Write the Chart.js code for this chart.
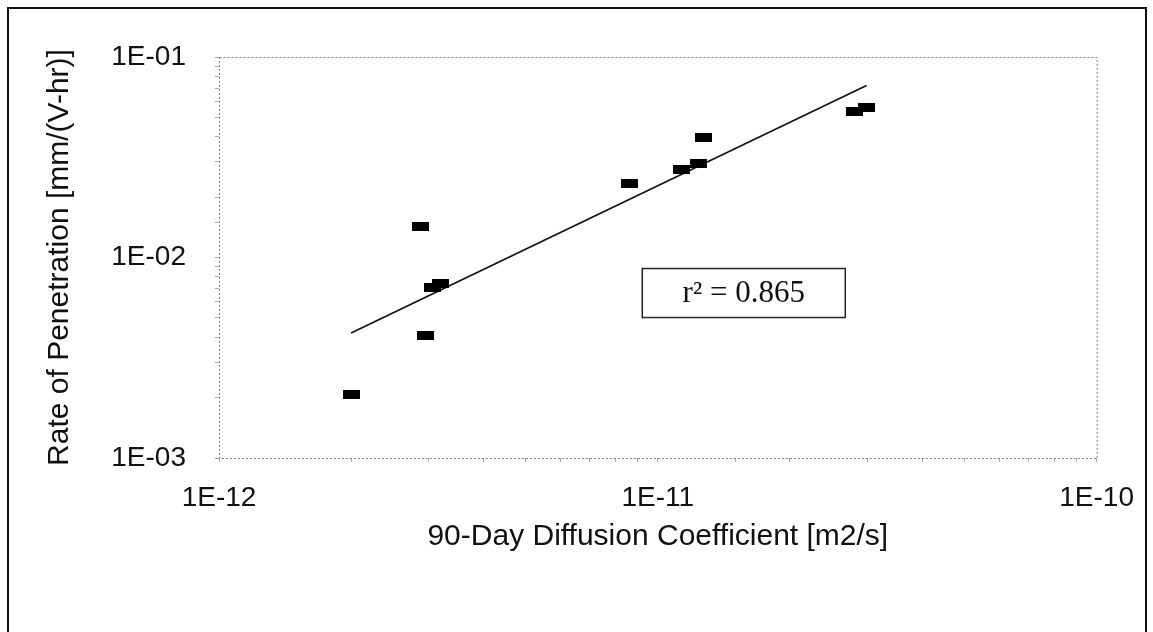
<!DOCTYPE html>
<html>
<head>
<meta charset="utf-8">
<title>Rate of Penetration vs 90-Day Diffusion Coefficient</title>
<script src="https://cdn.jsdelivr.net/npm/chart.js@4.4.1/dist/chart.umd.min.js"></script>
<style>
  html, body { margin: 0; padding: 0; background: #fff; overflow: hidden; }
  #wrap { position: relative; width: 1153px; height: 632px; }
  #frame {
    position: absolute; left: 7px; top: 7px; width: 1136px; height: 700px;
    border: 2px solid #111; border-bottom: none; pointer-events: none;
  }
  canvas { position: absolute; left: 0; top: 0; }
</style>
</head>
<body>
<div id="wrap">
  <canvas id="chart" width="1153" height="632"></canvas>
  <div id="frame"></div>
</div>
<script>
// --- data ---
const diffusion   = [2.0e-12, 2.88e-12, 2.95e-12, 3.07e-12, 3.2e-12, 8.6e-12, 1.13e-11, 1.24e-11, 1.27e-11, 2.81e-11, 2.99e-11];
const penetration = [2.08e-3, 1.42e-2, 4.1e-3, 7.05e-3, 7.4e-3, 2.35e-2, 2.76e-2, 2.96e-2, 3.99e-2, 5.32e-2, 5.63e-2];

// fitted line end points as drawn
const trendX = [2.0e-12, 2.99e-11];
const trendY = [4.2e-3, 7.2e-2];

const xTickLabels = ['1E-12', '1E-11', '1E-10'];
const yTickLabels = ['1E-03', '1E-02', '1E-01'];

const r2Text = 'r\u00B2 = 0.865';
const r2Anchor = { x: 1.57e-11, y: 6.65e-3 };

// black rectangle marker like the original
function rectMarker(w, h) {
  const c = document.createElement('canvas');
  c.width = w; c.height = h;
  const g = c.getContext('2d');
  g.fillStyle = '#000';
  g.fillRect(0, 0, w, h);
  return c;
}

// only the decades get a label
function decadeLabel(labels, minExp) {
  return (value) => {
    const e = Math.log10(value);
    const r = Math.round(e);
    if (Math.abs(e - r) > 1e-6) return '';
    return labels[r - minExp] || '';
  };
}

// dotted plot frame (Excel style)
const plotFrame = {
  id: 'plotFrame',
  beforeDatasetsDraw(chart) {
    const { ctx, chartArea: a } = chart;
    ctx.save();
    ctx.strokeStyle = '#7a7a7a';
    ctx.lineWidth = 1;
    ctx.setLineDash([2, 2]);
    ctx.strokeRect(a.left + 0.5, a.top + 0.5, a.right - a.left, a.bottom - a.top);
    ctx.restore();
  }
};

// r^2 text box
const r2Box = {
  id: 'r2Box',
  afterDatasetsDraw(chart) {
    const { ctx, scales } = chart;
    const cx = scales.x.getPixelForValue(r2Anchor.x);
    const cy = scales.y.getPixelForValue(r2Anchor.y);
    const w = 203, h = 49;
    ctx.save();
    ctx.fillStyle = '#fff';
    ctx.fillRect(cx - w / 2, cy - h / 2, w, h);
    ctx.strokeStyle = '#222';
    ctx.lineWidth = 1.5;
    ctx.strokeRect(cx - w / 2, cy - h / 2, w, h);
    ctx.fillStyle = '#111';
    ctx.font = '31px "Liberation Serif", "Times New Roman", serif';
    ctx.textAlign = 'center';
    ctx.textBaseline = 'middle';
    ctx.fillText(r2Text, cx, cy + 1);
    ctx.restore();
  }
};

const tickFont = { family: '"Liberation Sans", Arial, sans-serif', size: 28 };
const titleFont = { family: '"Liberation Sans", Arial, sans-serif', size: 30 };

new Chart(document.getElementById('chart'), {
  type: 'scatter',
  data: {
    datasets: [
      {
        label: 'Data',
        data: diffusion.map((x, i) => ({ x, y: penetration[i] })),
        pointStyle: rectMarker(17, 9),
        pointRadius: 8,
        pointHoverRadius: 8
      },
      {
        label: 'Fit',
        type: 'line',
        data: trendX.map((x, i) => ({ x, y: trendY[i] })),
        borderColor: '#111',
        borderWidth: 1.7,
        pointRadius: 0,
        fill: false,
        tension: 0
      }
    ]
  },
  options: {
    responsive: false,
    animation: false,
    events: [],
    layout: { padding: { left: 0, top: 57, right: 56, bottom: 0 } },
    plugins: { legend: { display: false }, tooltip: { enabled: false } },
    scales: {
      x: {
        type: 'logarithmic',
        min: 1e-12, max: 1e-10,
        border: { display: false },
        grid: { drawOnChartArea: false, drawTicks: true, tickLength: 4, color: '#aaa' },
        ticks: {
          autoSkip: false, maxRotation: 0, padding: 19, color: '#111', font: tickFont,
          callback: decadeLabel(xTickLabels, -12)
        },
        title: {
          display: true, text: '90-Day Diffusion Coefficient [m2/s]', color: '#111',
          font: titleFont, padding: { top: 0, bottom: 77 }
        },
        afterFit(scale) { scale.height = 632 - 458; }
      },
      y: {
        type: 'logarithmic',
        min: 1e-3, max: 1e-1,
        border: { display: false },
        grid: { drawOnChartArea: false, drawTicks: true, tickLength: 4, color: '#aaa' },
        ticks: {
          autoSkip: false, padding: 29, color: '#111', font: tickFont,
          callback: decadeLabel(yTickLabels, -3)
        },
        title: {
          display: true, text: 'Rate of Penetration [mm/(V-hr)]', color: '#111',
          font: titleFont, padding: { top: 42, bottom: 0 }
        },
        afterFit(scale) { scale.width = 219; }
      }
    }
  },
  plugins: [plotFrame, r2Box]
});
</script>
</body>
</html>
